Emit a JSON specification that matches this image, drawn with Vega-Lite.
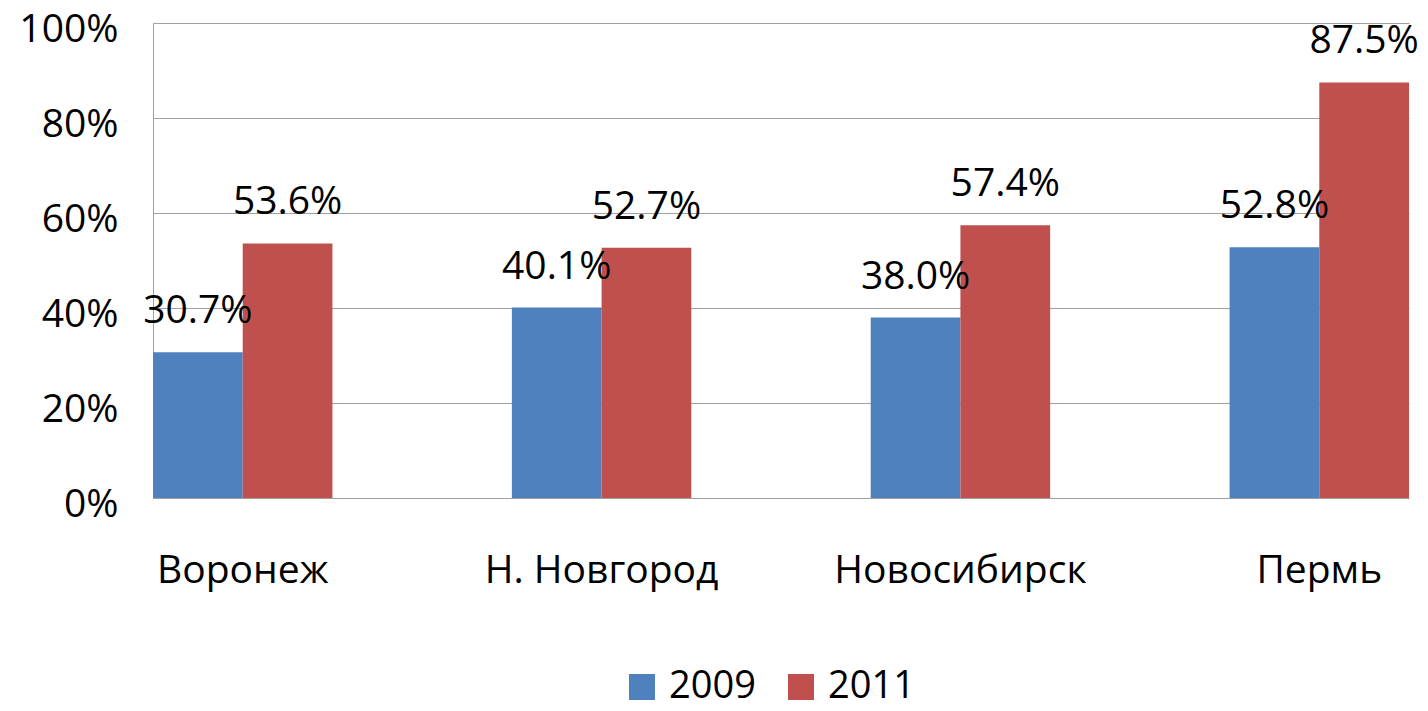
{
  "$schema": "https://vega.github.io/schema/vega-lite/v6.json",
  "width": 1256,
  "height": 475,
  "autosize": {"type": "none"},
  "padding": {"left": 153, "top": 23, "right": 19, "bottom": 213},
  "config": {"font": "Open Sans", "view": {"stroke": null}},
  "data": {
    "values": [
      {"city": "Воронеж", "year": "2009", "value": 0.307},
      {"city": "Воронеж", "year": "2011", "value": 0.536},
      {"city": "Н. Новгород", "year": "2009", "value": 0.401},
      {"city": "Н. Новгород", "year": "2011", "value": 0.527},
      {"city": "Новосибирск", "year": "2009", "value": 0.380},
      {"city": "Новосибирск", "year": "2011", "value": 0.574},
      {"city": "Пермь", "year": "2009", "value": 0.528},
      {"city": "Пермь", "year": "2011", "value": 0.875}
    ]
  },
  "encoding": {
    "x": {
      "field": "city", "type": "nominal",
      "sort": ["Воронеж", "Н. Новгород", "Новосибирск", "Пермь"],
      "scale": {"paddingInner": 0.5, "paddingOuter": 0},
      "axis": {"title": null, "labelAngle": 0, "labelFontSize": 39, "labelPadding": 53, "labelLimit": 0, "ticks": false, "domainColor": "#a0a0a0", "labelColor": "black", "labelFontWeight": "normal"}
    },
    "xOffset": {"field": "year", "type": "nominal"},
    "y": {
      "field": "value", "type": "quantitative",
      "scale": {"domain": [0, 1]},
      "axis": {"format": ".0%", "values": [0, 0.2, 0.4, 0.6, 0.8, 1], "title": null, "ticks": false, "labelPadding": 35, "labelOffset": 6, "gridColor": "#a0a0a0", "domainColor": "#a0a0a0", "labelFontSize": 39, "labelColor": "black"}
    }
  },
  "layer": [
    {
      "mark": {"type": "bar"},
      "encoding": {
        "color": {
          "field": "year", "type": "nominal",
          "scale": {"domain": ["2009", "2011"], "range": ["#4F81BD", "#C0504D"]},
          "legend": {"orient": "none", "legendX": 470, "legendY": 645, "direction": "horizontal", "title": null, "symbolType": "square", "symbolSize": 676, "symbolStrokeWidth": 0, "labelFontSize": 38, "labelOffset": 8, "columnPadding": 26, "labelColor": "black"}
        }
      }
    },
    {
      "mark": {"type": "text", "dy": -29, "baseline": "alphabetic", "fontSize": 39, "color": "black"},
      "encoding": {"text": {"field": "value", "type": "quantitative", "format": ".1%"}}
    }
  ]
}
